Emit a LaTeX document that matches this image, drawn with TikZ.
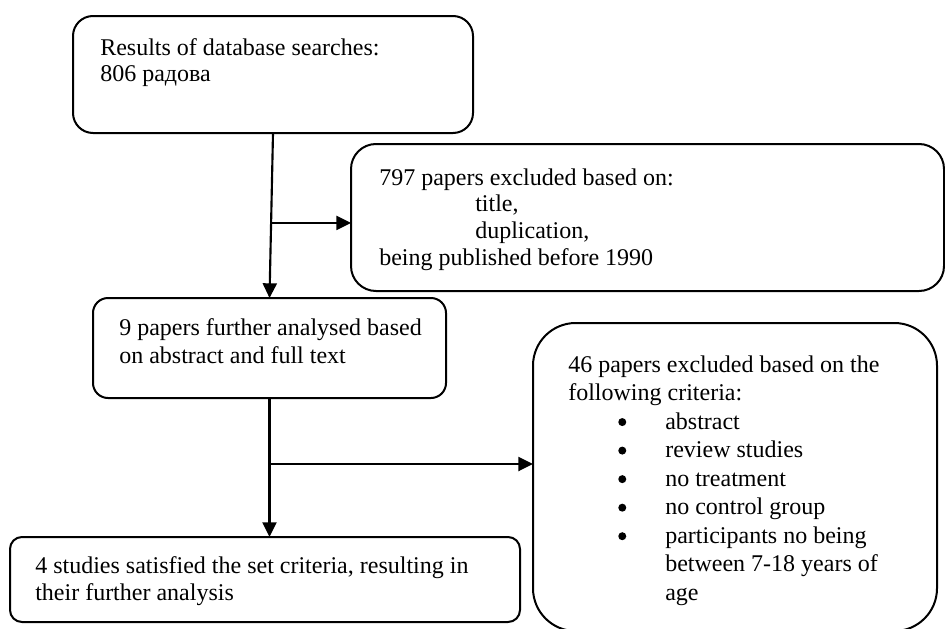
\documentclass[tikz,border=0pt]{standalone}
\usepackage{fontspec}
\setmainfont{Liberation Serif}
\usetikzlibrary{arrows.meta,calc}
\newcommand\bdot{\raisebox{2.25pt}{\tikz\fill (0,0) circle[radius=3pt];}}
\newcommand\bitem[1]{\makebox[72.75pt][l]{\hspace*{37.5pt}\bdot}#1}
\begin{document}
\begin{tikzpicture}[x=0.75pt,y=-0.75pt,
  box/.style={draw,line width=1.5pt,inner sep=0pt,outer sep=0pt},
  txt/.style={anchor=base west,inner sep=0pt},
  arr/.style={line width=1.6pt,-{Triangle[length=11pt,width=10.5pt]}}]
\useasboundingbox (0,0) rectangle (945,628);
% boxes
\node[box,rounded corners=15pt,minimum width=300pt,minimum height=87.75pt] (b1) at (273,74.5) {};
\node[box,rounded corners=18.75pt,minimum width=444.75pt,minimum height=110.25pt] (b797) at (647.5,217.5) {};
\node[box,rounded corners=11.25pt,minimum width=264.75pt,minimum height=75pt] (b9) at (269.5,348) {};
\node[box,rounded corners=9pt,minimum width=382.5pt,minimum height=63.75pt] (b4) at (265,579.5) {};
\node[box,rounded corners=32pt,minimum width=303pt,minimum height=231pt] (b46) at (735,477) {};
% texts
\node[txt,font=\fontsize{18}{20.25}\selectfont] (t1) at (100,55)
  {\begin{tabular}[t]{@{}l@{}}Results of database searches:\\806 радова\end{tabular}};
\node[txt,font=\fontsize{18}{20}\selectfont] (t797) at (379,185)
  {\begin{tabular}[t]{@{}l@{}}797 papers excluded based on:\\\hspace*{72pt}title,\\\hspace*{72pt}duplication,\\being published before 1990\end{tabular}};
\node[txt,font=\fontsize{18}{21}\selectfont] (t9) at (119,335)
  {\begin{tabular}[t]{@{}l@{}}9 papers further analysed based\\on abstract and full text\end{tabular}};
\node[txt,font=\fontsize{18}{20.25}\selectfont] (t4) at (35,573)
  {\begin{tabular}[t]{@{}l@{}}4 studies satisfied the set criteria, resulting in\\their further analysis\end{tabular}};
\node[txt,font=\fontsize{18}{21.4}\selectfont] (t46) at (568,372)
  {\begin{tabular}[t]{@{}l@{}}46 papers excluded based on the\\following criteria:\\
  \bitem{abstract}\\\bitem{review studies}\\\bitem{no treatment}\\\bitem{no control group}\\
  \bitem{participants no being}\\\hspace*{72.75pt}between 7-18 years of\\\hspace*{72.75pt}age\end{tabular}};
% connectors
\draw[arr] (b1.south) -- (b9.north);
\coordinate (j1) at ($(b1.south)!0.545!(b9.north)$);
\draw[arr] (j1) -- (j1 -| b797.west);
\draw[arr] (b9.south) -- (b9.south |- b4.north);
\coordinate (j2) at ($(b9.south)!0.475!(b9.south |- b4.north)$);
\draw[arr] (j2) -- (j2 -| b46.west);
\end{tikzpicture}
\end{document}
